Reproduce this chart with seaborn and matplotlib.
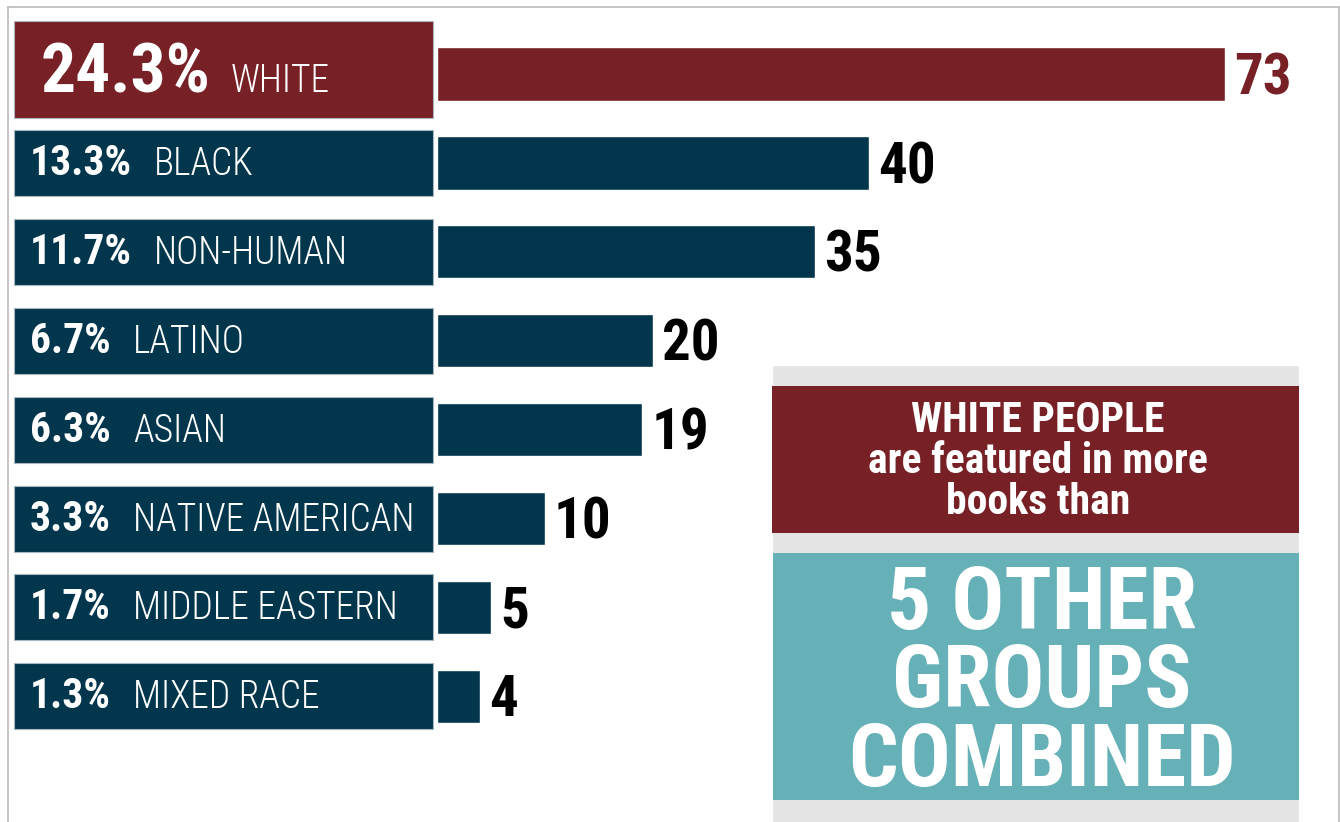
import matplotlib
matplotlib.use("Agg")
import matplotlib.pyplot as plt
from matplotlib import font_manager
from matplotlib.patches import Rectangle
from matplotlib.lines import Line2D
import matplotlib.transforms as mtransforms
import seaborn as sns

# ---------------- data ----------------
categories = ["WHITE", "BLACK", "NON-HUMAN", "LATINO", "ASIAN",
              "NATIVE AMERICAN", "MIDDLE EASTERN", "MIXED RACE"]
counts = [73, 40, 35, 20, 19, 10, 5, 4]
percents = ["24.3%", "13.3%", "11.7%", "6.7%", "6.3%", "3.3%", "1.7%", "1.3%"]
callout_top = ["WHITE PEOPLE", "are featured in more", "books than"]
callout_bottom = ["5 OTHER", "GROUPS", "COMBINED"]

MAROON = "#772126"
NAVY = "#02364C"
TEAL = "#65B1B7"
GRAY = "#E5E5E5"
colors = [MAROON] + [NAVY] * (len(categories) - 1)

sns.set_theme(style="white")
avail = {f.name for f in font_manager.fontManager.ttflist}
fam = None
for cand in ["Roboto Condensed", "Liberation Sans Narrow", "Open Sans Condensed", "Liberation Sans"]:
    if cand in avail:
        fam = cand
        break
plt.rcParams["font.family"] = [fam, "DejaVu Sans"]

W, H = 1340, 822
fig = plt.figure(figsize=(W / 100, H / 100), dpi=100)
ax = fig.add_axes([0, 0, 1, 1])

# pixel geometry
X0 = 437.0          # pixel of value 0
S = 10.8            # pixels per unit
Y0 = 74.0           # pixel centre of first row
DY = 88.9           # row pitch

sns.barplot(x=counts, y=categories, hue=categories, palette=colors,
            legend=False, orient="h", width=0.6, saturation=1, ax=ax)
ax.set_xlim(-X0 / S, (W - X0) / S)
ax.set_ylim((H - Y0) / DY, -Y0 / DY)
ax.axis("off")

def fx(px):
    return px / W

def fy(py):
    return 1 - py / H

blend = mtransforms.blended_transform_factory(fig.transFigure, ax.transData)

# label boxes
for i, cat in enumerate(categories):
    if i == 0:
        h = 97 / DY
        yc = i - 4.5 / DY
    else:
        h = 66 / DY
        yc = i
    ax.add_patch(Rectangle((fx(14), yc - h / 2), fx(433) - fx(14), h,
                           transform=blend, facecolor=colors[i],
                           edgecolor="#A9B6C0", lw=0.8, zorder=1))

# value labels
for i, v in enumerate(counts):
    ax.annotate(str(v), xy=(v, i), xytext=(6.5, -14.5), textcoords="offset points",
                ha="left", va="baseline", fontsize=41, fontweight="bold",
                color=MAROON if i == 0 else "black", zorder=3)

# percent labels + names
pct_texts = []
for i, p in enumerate(percents):
    if i == 0:
        t = ax.text(fx(41), i + 18 / DY, p, transform=blend, fontsize=50,
                    fontweight="bold", color="white", va="baseline", ha="left", zorder=3)
    else:
        t = ax.text(fx(30), i + 12 / DY, p, transform=blend, fontsize=30,
                    fontweight="bold", color="white", va="baseline", ha="left", zorder=3)
    pct_texts.append(t)

fig.canvas.draw()
renderer = fig.canvas.get_renderer()
for i, (t, cat) in enumerate(zip(pct_texts, categories)):
    bb = t.get_window_extent(renderer)
    gap = 20 if i == 0 else 22
    ax.text(fx(bb.x1 + gap), i + (18 if i == 0 else 12) / DY, cat, transform=blend,
            fontsize=27, fontweight="light", color="white", va="baseline", ha="left", zorder=3)

# right call-out panel
fig.patches.append(Rectangle((fx(773), fy(822)), fx(1299) - fx(773), fy(366) - fy(822),
                             transform=fig.transFigure, facecolor=GRAY, edgecolor="none", zorder=0))
fig.patches.append(Rectangle((fx(772), fy(533)), fx(1299) - fx(772), fy(386) - fy(533),
                             transform=fig.transFigure, facecolor=MAROON, edgecolor="none", zorder=1))
fig.patches.append(Rectangle((fx(773), fy(800)), fx(1299) - fx(773), fy(553) - fy(800),
                             transform=fig.transFigure, facecolor=TEAL, edgecolor="none", zorder=1))

for line, base in zip(callout_top, [432, 473, 514]):
    fig.text(fx(1038), fy(base), line, fontsize=30, fontweight="bold", color="white",
             ha="center", va="baseline", zorder=3)
for line, base in zip(callout_bottom, [629, 707, 786]):
    fig.text(fx(1042), fy(base), line, fontsize=63, fontweight="bold", color="white",
             ha="center", va="baseline", zorder=3)

# frame lines
for xs, ys in [([8, 1340], [7, 7]), ([8, 8], [7, 822]), ([1339, 1339], [7, 822])]:
    fig.add_artist(Line2D([fx(x) for x in xs], [fy(y) for y in ys], color="#BBBBBB", lw=1.2))

fig.savefig("out.png", dpi=100)
